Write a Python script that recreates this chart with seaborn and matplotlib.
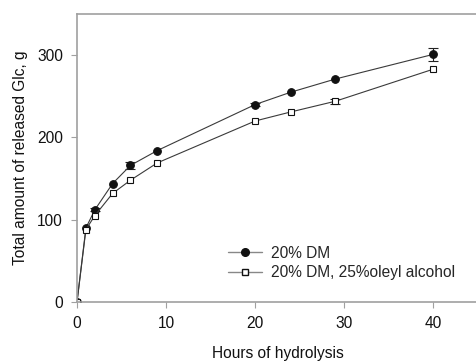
import matplotlib
matplotlib.use("Agg")
import matplotlib.pyplot as plt
import seaborn as sns
import pandas as pd
import numpy as np
from matplotlib.lines import Line2D

hours = [0, 1, 2, 4, 6, 9, 20, 24, 29, 40]
dm = [0, 90, 112, 144, 166, 184, 240, 255, 271, 301]
dm_err = [0, 0, 2, 0, 4, 0, 2, 0, 0, 8]
oleyl = [0, 88, 105, 132, 148, 169, 220, 231, 244, 283]
oleyl_err = [0, 0, 0, 0, 0, 0, 0, 0, 3, 0]
labels = ["20% DM", "20% DM, 25%oleyl alcohol"]

FS = 11.2

sns.set_style("ticks")
plt.rcParams['font.family'] = ['Liberation Sans', 'DejaVu Sans']

fig = plt.figure(figsize=(4.76, 3.61), dpi=100)
ax = fig.add_axes([77/476, 59/361, 401/476, 288/361])

df = pd.DataFrame({
    "h": hours * 2,
    "v": dm + oleyl,
    "s": [labels[0]] * len(hours) + [labels[1]] * len(hours),
})
sns.lineplot(data=df, x="h", y="v", hue="s", style="s",
             palette={labels[0]: "#3a3a3a", labels[1]: "#3a3a3a"},
             markers={labels[0]: "o", labels[1]: "s"}, dashes=False,
             linewidth=0.8, ax=ax, legend=False, zorder=2)
for ln, fc, ms in zip(ax.lines, ["#111111", "white"], [5.5, 4.8]):
    ln.set_markerfacecolor(fc)
    ln.set_markeredgecolor("#111111")
    ln.set_markersize(ms)
    ln.set_markeredgewidth(0.8)

for vals, errs in [(dm, dm_err), (oleyl, oleyl_err)]:
    e = np.array(errs, dtype=float)
    m = e > 0
    ax.errorbar(np.array(hours)[m], np.array(vals)[m], yerr=e[m], fmt="none",
                ecolor="#222222", elinewidth=0.8, capsize=3.5, capthick=0.8,
                zorder=1)

ax.set_xlim(0, 45)
ax.set_ylim(0, 350)
ax.set_xticks([0, 10, 20, 30, 40])
ax.set_yticks([0, 100, 200, 300])
ax.tick_params(labelsize=FS, length=4.5, width=0.8, pad=5.5, color="#a0a0a0",
               labelcolor="#111111")
for s in ["left", "bottom", "top", "right"]:
    ax.spines[s].set_color("#a0a0a0")
    ax.spines[s].set_linewidth(1.2)

ax.set_xlabel("Hours of hydrolysis", fontsize=FS, color="#111111", labelpad=11)
ax.set_ylabel("Total amount of released Glc, g", fontsize=FS, color="#111111", labelpad=7)

handles = [
    Line2D([], [], color="#888888", lw=1.0, marker="o", markersize=5.5,
           markerfacecolor="#111111", markeredgecolor="#111111"),
    Line2D([], [], color="#888888", lw=1.0, marker="s", markersize=4.5,
           markerfacecolor="white", markeredgecolor="#111111"),
]
ax.legend(handles, labels, loc="center left",
          bbox_to_anchor=((228 - 77) / 401, (302 - 263) / 288),
          frameon=False, fontsize=FS, handlelength=2.2, handletextpad=0.55,
          labelspacing=0.3, borderpad=0, borderaxespad=0)

fig.savefig("out.png", dpi=100)
